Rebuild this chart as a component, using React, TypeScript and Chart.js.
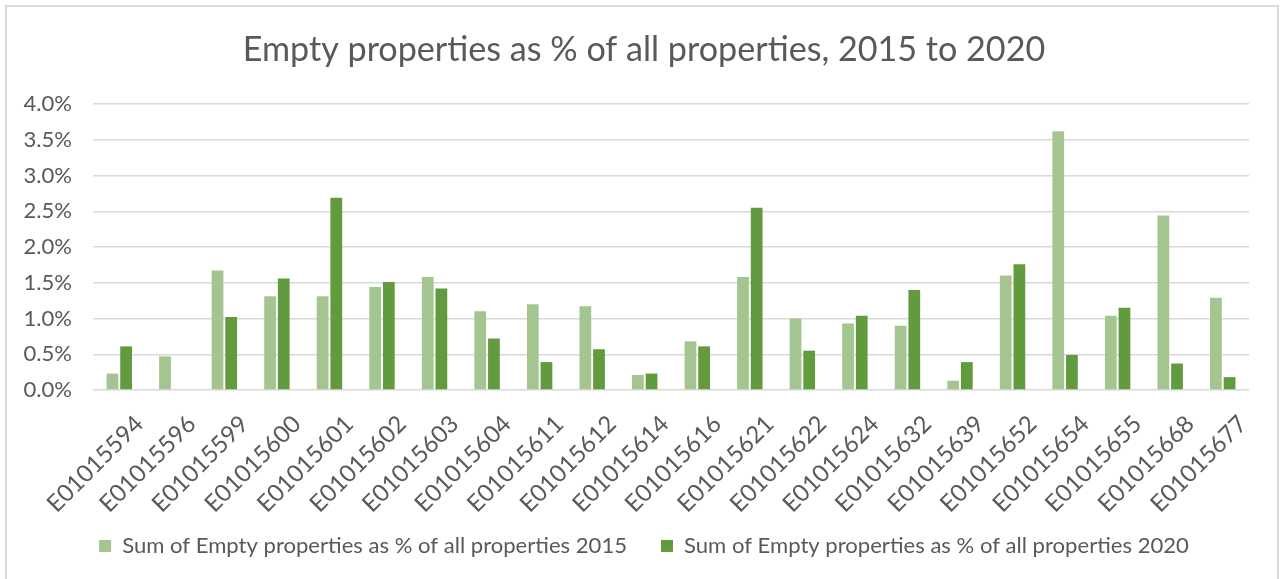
import React, { useEffect, useRef } from "react";
import { Chart, registerables } from "chart.js";

Chart.register(...registerables);

const categories = [
  "E01015594", "E01015596", "E01015599", "E01015600", "E01015601", "E01015602",
  "E01015603", "E01015604", "E01015611", "E01015612", "E01015614", "E01015616",
  "E01015621", "E01015622", "E01015624", "E01015632", "E01015639", "E01015652",
  "E01015654", "E01015655", "E01015668", "E01015677",
];

const values2015 = [
  0.23, 0.47, 1.67, 1.31, 1.31, 1.44, 1.58, 1.10, 1.20, 1.17, 0.21,
  0.68, 1.58, 1.00, 0.93, 0.90, 0.13, 1.60, 3.62, 1.04, 2.44, 1.29,
];

const values2020 = [
  0.61, null, 1.02, 1.56, 2.69, 1.51, 1.42, 0.72, 0.39, 0.57, 0.23,
  0.61, 2.55, 0.55, 1.04, 1.40, 0.39, 1.76, 0.49, 1.15, 0.37, 0.18,
];

const seriesLabels = [
  "Sum of Empty properties as % of all properties 2015",
  "Sum of Empty properties as % of all properties 2020",
];

const chartTitle = "Empty properties as % of all properties, 2015 to 2020";

const yMin = 0;
const yMax = 4;
const yStep = 0.5;

const FONT = "Lato, 'Open Sans', sans-serif";
const TEXT = "#595959";
const GRID = "#d9d9d9";
const LIGHT = "#A5C590";
const DARK = "#629A3E";

function fitSize(text: string, width: number): number {
  const ctx = document.createElement("canvas").getContext("2d")!;
  ctx.font = `100px ${FONT}`;
  return (100 * width) / ctx.measureText(text).width;
}

export default function App() {
  const ref = useRef<HTMLCanvasElement | null>(null);

  useEffect(() => {
    if (!ref.current) return;
    const titleSize = fitSize(chartTitle, 803);
    const labelSize = fitSize(seriesLabels[0], 505);
    const padBottom = 12;
    const padLeft = 6;
    const titleTop = 49.5 - 0.6 * titleSize;
    const titleBottom = 104 - titleTop - 1.2 * titleSize;

    const chart = new Chart(ref.current, {
      type: "bar",
      data: {
        labels: categories,
        datasets: [
          {
            label: seriesLabels[0],
            data: values2015,
            backgroundColor: LIGHT,
            borderWidth: 0,
            barPercentage: 0.86,
            categoryPercentage: 0.52,
          },
          {
            label: seriesLabels[1],
            data: values2020,
            backgroundColor: DARK,
            borderWidth: 0,
            barPercentage: 0.86,
            categoryPercentage: 0.52,
          },
        ],
      },
      options: {
        responsive: false,
        animation: false,
        layout: { padding: { left: padLeft, right: 0, top: 0, bottom: padBottom } },
        plugins: {
          title: {
            display: true,
            text: chartTitle,
            color: TEXT,
            font: { family: FONT, size: titleSize, weight: "normal" },
            padding: { top: titleTop, bottom: titleBottom },
          },
          legend: {
            position: "bottom",
            labels: {
              color: TEXT,
              boxWidth: 12,
              boxHeight: 12,
              padding: 34,
              font: { family: FONT, size: labelSize },
            },
          },
          tooltip: { enabled: false },
        },
        scales: {
          x: {
            grid: { display: false },
            border: { display: false },
            ticks: {
              autoSkip: false,
              minRotation: 45,
              maxRotation: 45,
              color: TEXT,
              padding: 12,
              labelOffset: 20,
              font: { family: FONT, size: labelSize * 1.08 },
            },
            afterFit: (s: any) => {
              const legH = s.chart.legend ? s.chart.legend.height : 0;
              s.height = s.chart.height - 390 - legH - padBottom;
              // let the rotated category labels run past the scale box
              s._computeLabelArea = () => undefined;
            },
          },
          y: {
            min: yMin,
            max: yMax,
            border: { display: false },
            grid: { color: GRID, lineWidth: 1.5, drawTicks: false },
            ticks: {
              stepSize: yStep,
              color: TEXT,
              padding: 21,
              font: { family: FONT, size: labelSize },
              callback: (v: any) => Number(v).toFixed(1) + "%",
            },
            afterFit: (s: any) => {
              s.width = 93 - padLeft;
            },
          },
          yRight: {
            position: "right",
            display: true,
            grid: { display: false },
            border: { display: false },
            ticks: { display: false },
            afterFit: (s: any) => {
              s.width = 1282 - 1249;
            },
          },
        },
      },
    });
    return () => chart.destroy();
  }, []);

  return (
    <div
      style={{
        position: "fixed",
        left: 0,
        top: 0,
        width: 1282,
        height: 579,
        overflow: "hidden",
        background: "#ffffff",
      }}
    >
      <canvas ref={ref} width={1282} height={579} style={{ position: "absolute", left: 0, top: 0 }} />
      <div
        style={{
          position: "absolute",
          left: 5,
          top: 5,
          width: 1274,
          height: 620,
          boxSizing: "border-box",
          border: "2px solid #dadada",
          pointerEvents: "none",
        }}
      />
    </div>
  );
}
